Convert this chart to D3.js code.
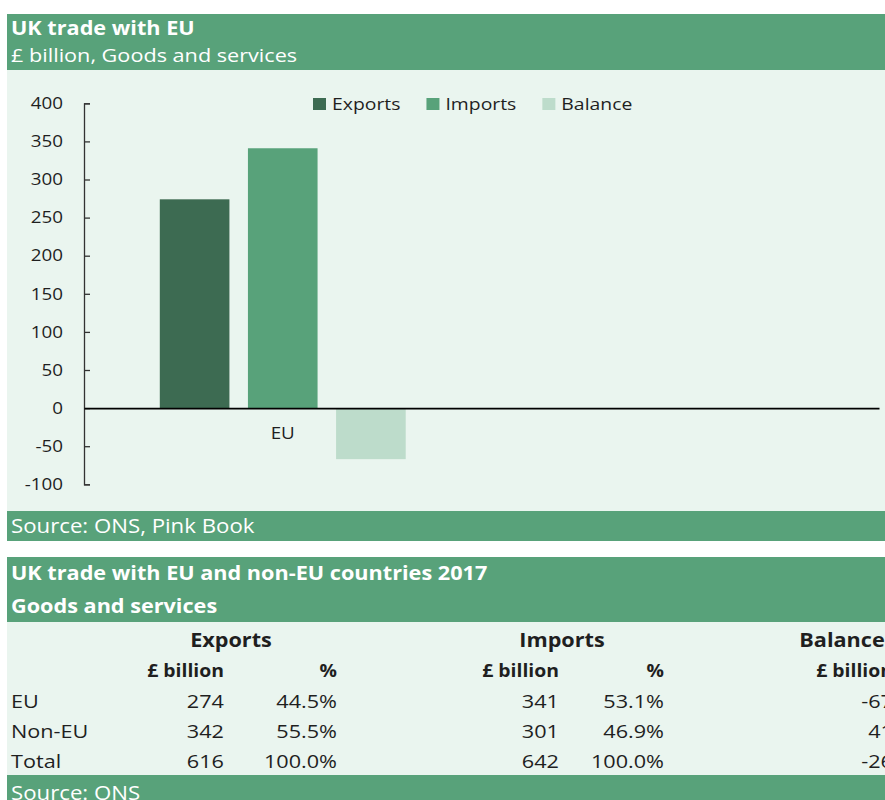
<!DOCTYPE html>
<html>
<head>
<meta charset="utf-8">
<script src="https://cdn.jsdelivr.net/npm/d3@7"></script>
<style>
	html, body { margin: 0; padding: 0; background: #ffffff; }
	svg { display: block; font-family: "Open Sans", sans-serif; }
</style>
</head>
<body>
<div id="chart"></div>
<script>
// chart data
const chartCategories = ['EU', ''];
const seriesNames = ['Exports', 'Imports', 'Balance'];
const exportsValues = [274, null];
const importsValues = [341, null];
const balanceValues = [-67, null];
const yTicks = [-100, -50, 0, 50, 100, 150, 200, 250, 300, 350, 400];

// table data
const regions = ['EU', 'Non-EU', 'Total'];
const exportsBn = [274, 342, 616];
const exportsPct = [44.5, 55.5, 100.0];
const importsBn = [341, 301, 642];
const importsPct = [53.1, 46.9, 100.0];
const balanceBn = [-67, 41, -26];

const green = '#58a27a',
	mint = '#eaf5ef',
	textCol = '#1f1f1f',
	colours = ['#3d6b52', '#58a27a', '#bddccb'];

// the picture is slightly stretched sideways, so text gets the same stretch
const SX = 1.14;

// plain hyphen for negatives, like the source
const fmt = d3.formatLocale({decimal: '.', thousands: ',', grouping: [3], currency: ['£', ''], minus: '-'});
const intFmt = fmt.format('d');
const pctFmt = d => fmt.format('.1f')(d) + '%';

let width = 885,
	height = 800;

let svg = d3.select('#chart')
	.append('svg')
	.attr('width', width)
	.attr('height', height);

function addText(g, x, y, s, size, weight, anchor, fill) {
	return g.append('text')
		.attr('transform', 'translate(' + x + ',' + y + ') scale(' + SX + ',1)')
		.attr('text-anchor', anchor || 'start')
		.attr('font-size', size)
		.attr('font-weight', weight || 'normal')
		.attr('fill', fill || textCol)
		.text(s);
}

// ---------- top panel: bar chart ----------
svg.append('rect').attr('x', 7).attr('y', 14).attr('width', width).attr('height', 56).attr('fill', green);
svg.append('rect').attr('x', 7).attr('y', 70).attr('width', width).attr('height', 441).attr('fill', mint);
svg.append('rect').attr('x', 7).attr('y', 511).attr('width', width).attr('height', 30).attr('fill', green);

addText(svg, 11, 35, 'UK trade with EU', 19, 'bold', 'start', '#ffffff');
addText(svg, 11, 62, '£ billion, Goods and services', 19, 'normal', 'start', '#ffffff');
addText(svg, 11, 533, 'Source: ONS, Pink Book', 19.5, 'normal', 'start', '#ffffff');

let plotLeft = 84,
	plotRight = 879;

let y = d3.scaleLinear()
	.domain([-100, 400])
	.range([484.3, 103.3]);

let x0 = d3.scaleBand()
	.domain(chartCategories)
	.range([plotLeft, plotRight])
	.padding(0);

let x1 = d3.scaleBand()
	.domain(seriesNames)
	.range([0, x0.bandwidth()])
	.paddingInner(0.21)
	.paddingOuter(0.86);

let colour = d3.scaleOrdinal().domain(seriesNames).range(colours);

let barData = [];
chartCategories.forEach(function(c, i) {
	[exportsValues, importsValues, balanceValues].forEach(function(vals, j) {
		if (vals[i] !== null) barData.push({category: c, series: seriesNames[j], value: vals[i]});
	});
});

svg.append('g')
	.attr('class', 'bars')
	.selectAll('rect')
	.data(barData)
	.enter().append('rect')
	.attr('x', d => x0(d.category) + x1(d.series))
	.attr('width', x1.bandwidth())
	.attr('y', d => y(Math.max(0, d.value)))
	.attr('height', d => Math.abs(y(d.value) - y(0)))
	.attr('fill', d => colour(d.series));

// y axis: ticks point into the plot, labels sit to the left
let yAxis = svg.append('g')
	.attr('transform', 'translate(' + plotLeft + ',0)')
	.call(d3.axisLeft(y).tickValues(yTicks).tickFormat(intFmt).tickSizeInner(-6).tickSizeOuter(-6).tickPadding(21));
yAxis.select('.domain').attr('stroke', '#333').attr('stroke-width', 1.3);
yAxis.selectAll('.tick line').attr('stroke', '#333').attr('stroke-width', 1.3);
yAxis.selectAll('.tick text')
	.attr('font-size', 16.5)
	.attr('font-family', '"Open Sans", sans-serif')
	.attr('fill', textCol)
	.attr('x', -21 / SX)
	.attr('transform', 'scale(' + SX + ',1)');

// x axis along zero
let xAxis = svg.append('g')
	.attr('transform', 'translate(0,' + y(0) + ')')
	.call(d3.axisBottom(x0).tickSize(0).tickSizeOuter(0).tickPadding(19));
xAxis.select('.domain').attr('stroke', '#000').attr('stroke-width', 1.6);
xAxis.selectAll('.tick text')
	.attr('font-size', 16.5)
	.attr('font-family', '"Open Sans", sans-serif')
	.attr('fill', textCol)
	.each(function() {
		// keep the label centred after the stretch
		let tick = d3.select(this.parentNode);
		let cx = +tick.attr('transform').match(/translate\(([-\d.]+)/)[1];
		tick.attr('transform', 'scale(' + SX + ',1) translate(' + (cx / SX) + ',0)');
	});

// legend, flowing left to right
let legend = svg.append('g').attr('class', 'legend');
let lx = 313;
seriesNames.forEach(function(s) {
	legend.append('rect')
		.attr('x', lx).attr('y', 98)
		.attr('width', 13).attr('height', 12)
		.attr('fill', colour(s));
	let t = addText(legend, lx + 19, 110, s, 17, 'normal', 'start', textCol);
	lx = lx + 19 + t.node().getComputedTextLength() * SX + 26;
});

// ---------- bottom panel: table ----------
svg.append('rect').attr('x', 7).attr('y', 557).attr('width', width).attr('height', 65).attr('fill', green);
svg.append('rect').attr('x', 7).attr('y', 622).attr('width', width).attr('height', 153).attr('fill', mint);
svg.append('rect').attr('x', 7).attr('y', 775).attr('width', width).attr('height', 30).attr('fill', green);

addText(svg, 11, 580, 'UK trade with EU and non-EU countries 2017', 19, 'bold', 'start', '#ffffff');
addText(svg, 11, 613, 'Goods and services', 19, 'bold', 'start', '#ffffff');
addText(svg, 11, 800, 'Source: ONS', 19.5, 'normal', 'start', '#ffffff');

let groups = [
	{name: 'Exports', centre: 231},
	{name: 'Imports', centre: 562},
	{name: 'Balance', centre: 842}
];
groups.forEach(g => addText(svg, g.centre, 647, g.name, 19, 'bold', 'middle'));

let columns = [
	{head: '£ billion', right: 224, values: exportsBn, fmt: intFmt},
	{head: '%', right: 337, values: exportsPct, fmt: pctFmt},
	{head: '£ billion', right: 559, values: importsBn, fmt: intFmt},
	{head: '%', right: 664, values: importsPct, fmt: pctFmt},
	{head: '£ billion', right: 893, values: balanceBn, fmt: intFmt}
];

let rowY = d3.scalePoint().domain(regions).range([708, 768]);

columns.forEach(function(col) {
	addText(svg, col.right, 677, col.head, 17, 'bold', 'end');
	regions.forEach(function(r, i) {
		addText(svg, col.right, rowY(r), col.fmt(col.values[i]), 19, 'normal', 'end');
	});
});
regions.forEach(r => addText(svg, 11, rowY(r), r, 19, 'normal', 'start'));
</script>
</body>
</html>
